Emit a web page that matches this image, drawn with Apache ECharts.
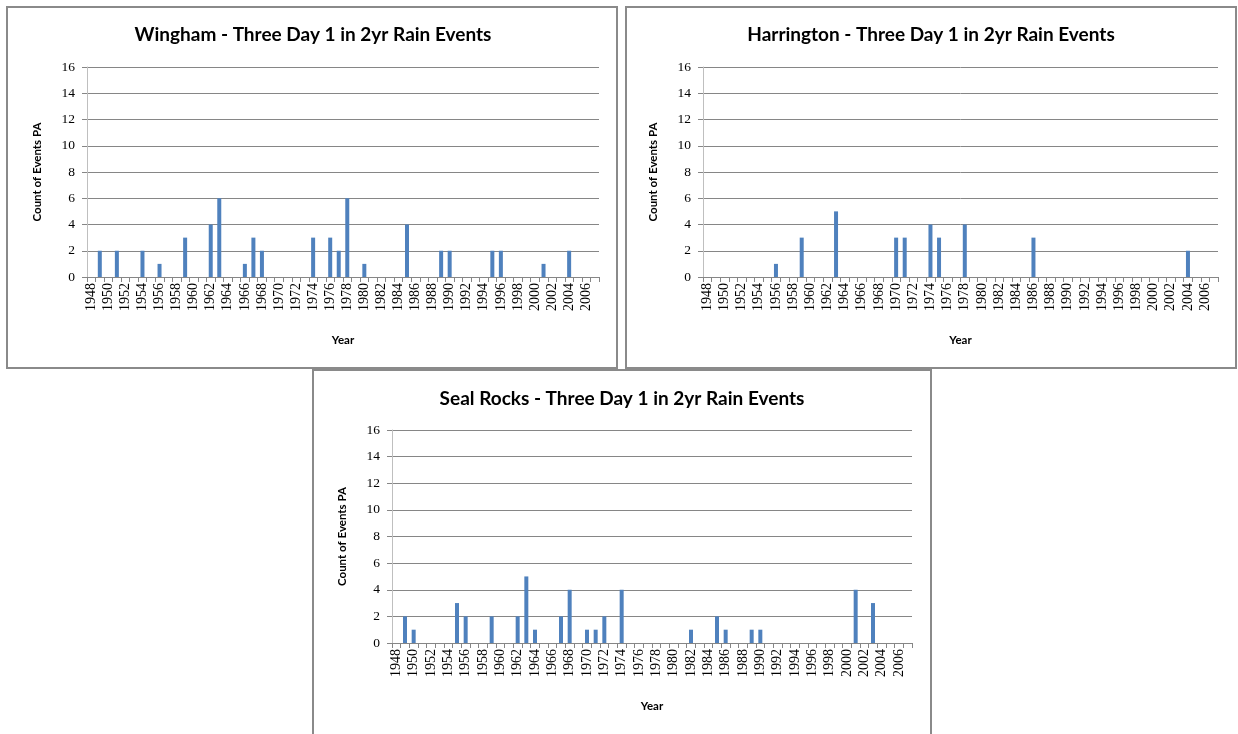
<!DOCTYPE html>
<html>
<head>
<meta charset="utf-8">
<script src="https://cdn.jsdelivr.net/npm/echarts@6/dist/echarts.min.js"></script>
<style>
  html, body { margin: 0; padding: 0; background: #ffffff; }
  #wrap { position: relative; width: 1238px; height: 734px; overflow: hidden; background: #fff; }
  .frame { position: absolute; border: 2px solid #8a8a8a; background: #fff; box-sizing: border-box; }
  #chart { position: absolute; left: 0; top: 0; width: 1238px; height: 734px; }
</style>
</head>
<body>
<div id="wrap">
  <div class="frame" style="left:6px;top:6px;width:612px;height:363px;"></div>
  <div class="frame" style="left:625px;top:6px;width:612px;height:363px;"></div>
  <div class="frame" style="left:312px;top:369px;width:620px;height:380px;"></div>
  <div id="chart"></div>
</div>
<script>
// Categories (years)
const years = [
  '1948','1949','1950','1951','1952','1953','1954','1955','1956','1957',
  '1958','1959','1960','1961','1962','1963','1964','1965','1966','1967',
  '1968','1969','1970','1971','1972','1973','1974','1975','1976','1977',
  '1978','1979','1980','1981','1982','1983','1984','1985','1986','1987',
  '1988','1989','1990','1991','1992','1993','1994','1995','1996','1997',
  '1998','1999','2000','2001','2002','2003','2004','2005','2006','2007'
];

// Count of events per year
const wingham = [
  0,2,0,2,0,0,2,0,1,0,
  0,3,0,0,4,6,0,0,1,3,
  2,0,0,0,0,0,3,0,3,2,
  6,0,1,0,0,0,0,4,0,0,
  0,2,2,0,0,0,0,2,2,0,
  0,0,0,1,0,0,2,0,0,0
];
const harrington = [
  0,0,0,0,0,0,0,0,1,0,
  0,3,0,0,0,5,0,0,0,0,
  0,0,3,3,0,0,4,3,0,0,
  4,0,0,0,0,0,0,0,3,0,
  0,0,0,0,0,0,0,0,0,0,
  0,0,0,0,0,0,2,0,0,0
];
const sealRocks = [
  0,2,1,0,0,0,0,3,2,0,
  0,2,0,0,2,5,1,0,0,2,
  4,0,1,1,2,0,4,0,0,0,
  0,0,0,0,1,0,0,2,1,0,
  0,1,1,0,0,0,0,0,0,0,
  0,0,0,4,0,3,0,0,0,0
];

// Text
const titles = [
  'Wingham - Three Day 1 in 2yr Rain Events',
  'Harrington - Three Day 1 in 2yr Rain Events',
  'Seal Rocks - Three Day 1 in 2yr Rain Events'
];
const yName = 'Count of Events PA';
const xName = 'Year';
const yMin = 0, yMax = 16, yInterval = 2;

const seriesData = [wingham, harrington, sealRocks];

const grids = [
  { left: 87, top: 67, width: 512, height: 210 },
  { left: 703, top: 67, width: 515, height: 210 },
  { left: 392, top: 430, width: 520, height: 213 }
];
const titlePos = [
  { x: 313, y: 25 },
  { x: 931, y: 25 },
  { x: 622, y: 389 }
];

const titleFont = 'Lato, Calibri, "Open Sans", sans-serif';
const serif = '"Liberation Serif", "Times New Roman", serif';

const chart = echarts.init(document.getElementById('chart'), null, { renderer: 'canvas' });

const option = {
  backgroundColor: 'transparent',
  animation: false,
  title: titles.map((t, i) => ({
    text: t,
    left: titlePos[i].x,
    top: titlePos[i].y,
    textAlign: 'center',
    padding: 0,
    textStyle: { fontFamily: titleFont, fontWeight: 'bold', fontSize: 19, color: '#000' }
  })),
  grid: grids.map(g => Object.assign({ containLabel: false }, g)),
  xAxis: grids.map((g, i) => ({
    type: 'category',
    gridIndex: i,
    data: years,
    boundaryGap: true,
    name: xName,
    nameLocation: 'middle',
    nameGap: 57,
    nameTextStyle: { fontFamily: titleFont, fontWeight: 'bold', fontSize: 11.5, color: '#000' },
    axisLine: { show: true, lineStyle: { color: '#868686', width: 1 } },
    axisTick: { show: true, interval: 0, length: 5, lineStyle: { color: '#868686' } },
    axisLabel: {
      interval: 1, rotate: 90, margin: 6,
      fontFamily: serif, fontSize: 14, color: '#000'
    },
    splitLine: { show: false }
  })),
  yAxis: grids.map((g, i) => ({
    type: 'value',
    gridIndex: i,
    min: yMin, max: yMax, interval: yInterval,
    name: yName,
    nameLocation: 'middle',
    nameGap: 44,
    nameRotate: 90,
    nameTextStyle: { fontFamily: titleFont, fontWeight: 'bold', fontSize: 11.5, color: '#000' },
    axisLine: { show: true, lineStyle: { color: '#bfbfbf', width: 1 } },
    axisTick: { show: true, length: 5, lineStyle: { color: '#868686' } },
    axisLabel: { margin: 12, fontFamily: serif, fontSize: 13.5, color: '#000' },
    splitLine: { show: true, lineStyle: { color: '#868686', width: 1 } }
  })),
  series: seriesData.map((d, i) => ({
    type: 'bar',
    xAxisIndex: i,
    yAxisIndex: i,
    data: d,
    barWidth: 4,
    itemStyle: { color: '#4f81bd' }
  }))
};
chart.setOption(option);
</script>
</body>
</html>
